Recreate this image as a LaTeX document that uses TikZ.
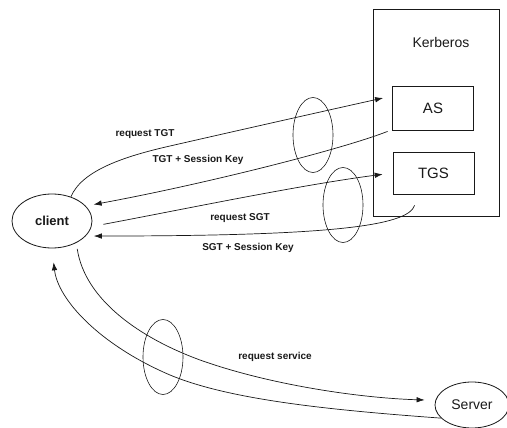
\documentclass[tikz,border=0pt]{standalone}
\usepackage{fontspec}
\setmainfont{Liberation Sans}
\usetikzlibrary{
  shapes.geometric,
  arrows.meta,
  positioning,
  calc
}
\definecolor{inkcolor}{RGB}{25, 25, 25}
\tikzset{
labeltext/.style={
  font=\fontsize{10}{12}\selectfont\bfseries,
  text=inkcolor
},
kdcbox/.style={
  draw=inkcolor,
  line width=0.8pt,
  minimum width=126pt,
  minimum height=207pt,
  inner sep=0pt
},
servicebox/.style={
  draw=inkcolor,
  line width=0.8pt,
  minimum width=81pt,
  inner sep=0pt,
  font=\fontsize{15}{18}\selectfont,
  text=inkcolor
},
hostnode/.style={
  ellipse,
  draw=inkcolor,
  line width=0.8pt,
  inner sep=0pt,
  text=inkcolor
},
channel/.style={
  ellipse,
  draw=inkcolor,
  line width=0.6pt,
  minimum width=40pt,
  minimum height=75pt,
  inner sep=0pt
},
msgarrow/.style={
  -{Latex[length=8pt,width=5.5pt]},
  line width=0.7pt,
  draw=inkcolor
}
}

\begin{document}
\begin{tikzpicture}[x=1pt, y=-1pt]
      \useasboundingbox (0,0) rectangle (507,428);
      % Kerberos
      \node[kdcbox] (kdc) at (436,112.5) {};
      \node[font=\fontsize{14}{17}\selectfont, text=inkcolor] (kdclabel) at (441,42) {Kerberos};
      \node[servicebox, minimum height=44pt] (AS) at (433,108) {AS};
      \node[servicebox, minimum height=42pt] (TGS) at (433.5,173) {TGS};
      % Hosts
      \node[hostnode, minimum width=80pt, minimum height=54pt, font=\fontsize{13}{16}\selectfont\bfseries] (client) at (52,221) {client};
      \node[hostnode, minimum width=74pt, minimum height=46pt, font=\fontsize{14}{17}\selectfont] (server) at (472,405) {Server};
      % Channels
      \node[channel] (ch1) at (313,135) {};
      \node[channel] (ch2) at (343,205) {};
      \node[channel] (ch3) at (163,357) {};
      % Free ends
      \coordinate (asin) at ([xshift=-9pt,yshift=10pt]AS.west);
      \coordinate (asout) at ([xshift=-4.5pt,yshift=-1pt]AS.south west);
      \coordinate (tgsout) at ([xshift=22pt,yshift=-11pt]TGS.south west);
      \coordinate (srvin) at ([xshift=-10pt,yshift=5pt]server.west);
      % Messages
      \draw[msgarrow] (client.52) .. controls (82,170) and (126,156) .. (170,146)
        .. controls (240,130) and (320,112) .. (asin);
      \draw[msgarrow, shorten >=8pt] (asout) .. controls (340,150) and (200,185) .. (client.24);
      \draw[msgarrow, shorten <=12pt, shorten >=10pt] (client.-8) .. controls (180,210) and (300,185) .. (TGS.west);
      \draw[msgarrow, shorten >=8pt] (tgsout) .. controls (408,226) and (330,236) .. (client.-24);
      \draw[msgarrow, shorten <=6pt] (client.-42) .. controls (85,300) and (140,338) .. (200,360)
        .. controls (270,385) and (360,398) .. (srvin);
      \draw[msgarrow, shorten >=14pt] (server.203) .. controls (330,410) and (230,400) .. (170,375)
        .. controls (100,345) and (58,300) .. (client.south);
      % Labels
      \node[labeltext] (reqtgt) at (145,134) {request TGT};
      \node[labeltext] (tgtkey) at (198,160) {TGT + Session Key};
      \node[labeltext] (reqsgt) at (240,218) {request SGT};
      \node[labeltext] (sgtkey) at (248,248) {SGT + Session Key};
      \node[labeltext] (reqsrv) at (275,357) {request service};
    \end{tikzpicture}
\end{document}
